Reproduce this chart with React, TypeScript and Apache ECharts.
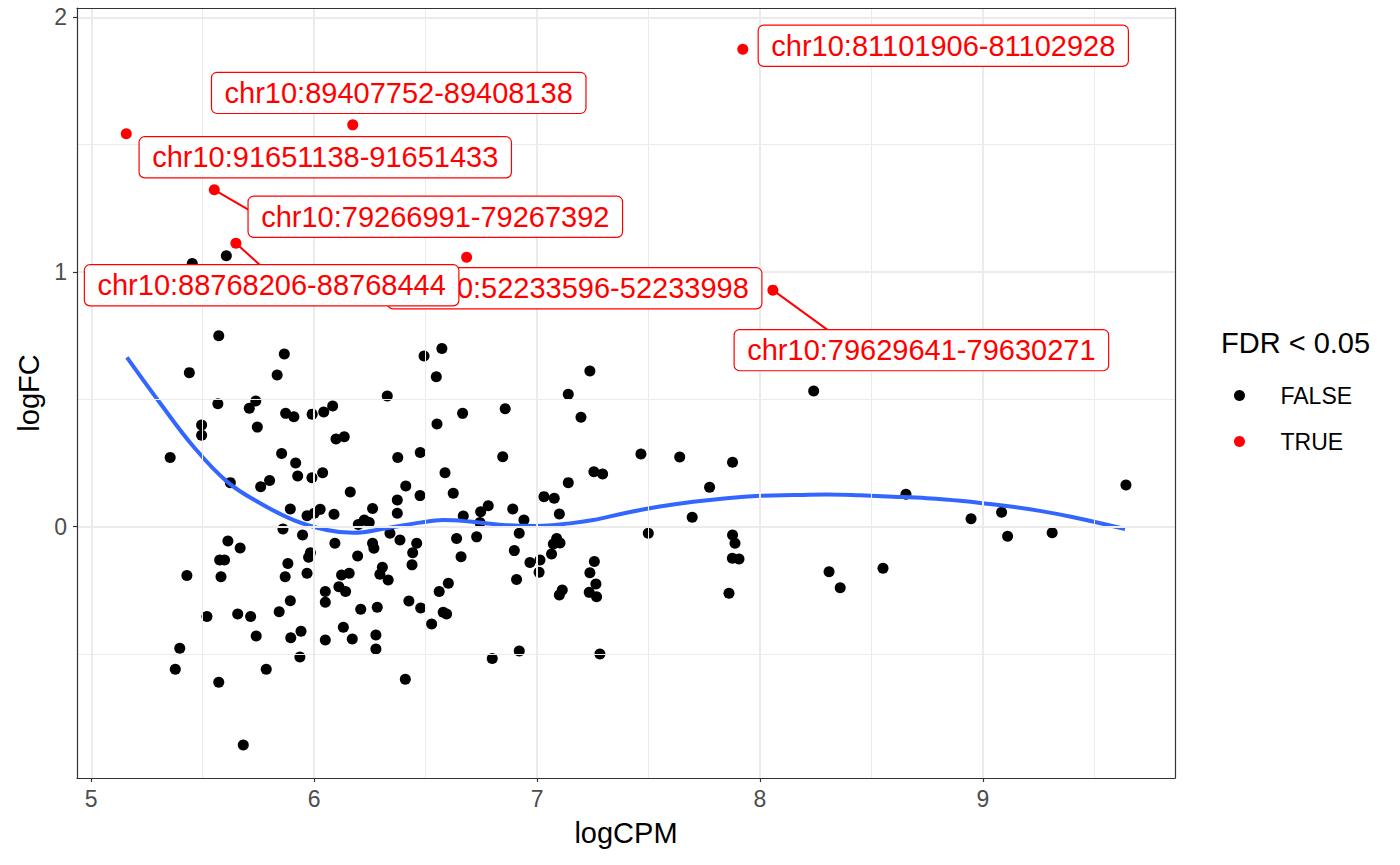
import React, { useEffect, useRef } from "react";
import * as echarts from "echarts";

const FONT = '"Liberation Sans", Arial, Helvetica, sans-serif';

// ---- FDR >= 0.05 (FALSE) points ----
const falseLogCPM = [
  5.572, 5.866, 5.440, 5.834, 5.568, 5.738, 5.709, 5.495, 5.495, 5.745,
  5.872, 5.909, 5.991, 6.043, 5.354, 5.854, 5.917, 5.926, 5.990, 6.038,
  5.624, 5.760, 5.800, 5.893, 5.968, 6.000, 6.027, 5.860, 5.948, 5.613,
  5.668, 5.983, 5.975, 5.576, 5.598, 5.882, 5.429, 5.582, 5.870, 5.968,
  6.050, 6.050, 5.893, 5.843, 5.519, 5.657, 5.715, 5.740, 5.895, 5.941,
  6.050, 5.397, 5.377, 5.785, 5.936, 5.572, 5.682, 6.493, 6.573, 6.548,
  6.328, 6.083, 6.666, 6.857, 6.551, 6.098, 6.135, 6.375, 6.476, 6.846,
  7.140, 6.587, 6.162, 6.411, 6.373, 6.475, 6.624, 7.031, 7.077, 7.140,
  6.089, 6.262, 6.373, 6.198, 6.225, 6.247, 6.669, 6.747, 6.781, 6.891,
  6.941, 7.100, 6.744, 6.093, 6.262, 6.268, 6.340, 6.385, 6.460, 6.442,
  6.639, 6.729, 6.920, 6.898, 7.088, 7.073, 7.103, 6.195, 6.439, 6.659,
  6.908, 6.968, 7.013, 7.009, 7.065, 6.157, 6.123, 6.306, 6.295, 6.332,
  6.111, 6.141, 6.209, 6.283, 6.425, 6.478, 6.561, 6.602, 6.579, 6.594,
  6.527, 7.113, 7.100, 6.131, 6.171, 6.277, 6.277, 6.409, 6.799, 6.920,
  7.237, 7.197, 7.466, 7.640, 7.877, 8.241, 7.255, 7.294, 7.774, 8.655,
  7.696, 7.499, 7.877, 7.888, 7.876, 7.906, 7.257, 7.237, 7.264, 7.234,
  7.267, 7.861, 8.310, 8.360, 8.552, 7.282, 9.642, 8.947, 9.084, 9.111,
  9.311, 5.453, 5.606,
];
const falseLogFC = [
  0.750, 0.678, 0.605, 0.596, 0.483, 0.494, 0.465, 0.399, 0.359, 0.391,
  0.445, 0.432, 0.442, 0.450, 0.272, 0.287, 0.250, 0.199, 0.192, 0.212,
  0.173, 0.157, 0.181, 0.069, 0.043, 0.053, 0.068, -0.009, -0.033, -0.056,
  -0.084, -0.102, -0.120, -0.131, -0.131, -0.145, -0.192, -0.197, -0.197, -0.183,
  -0.255, -0.297, -0.291, -0.334, -0.353, -0.343, -0.353, -0.429, -0.436, -0.411,
  -0.445, -0.477, -0.560, -0.560, -0.512, -0.611, -0.857, 0.670, 0.700, 0.589,
  0.513, 0.474, 0.445, 0.463, 0.403, 0.344, 0.353, 0.272, 0.291, 0.275,
  0.520, 0.212, 0.136, 0.160, 0.105, 0.122, 0.131, 0.118, 0.112, 0.173,
  0.049, 0.071, 0.053, 0.009, 0.026, 0.016, 0.042, 0.059, 0.082, 0.069,
  0.026, 0.050, 0.016, -0.065, -0.065, -0.085, -0.026, -0.052, -0.065, -0.102,
  -0.046, -0.040, -0.026, -0.094, -0.046, -0.068, -0.064, -0.115, -0.150, -0.118,
  -0.207, -0.141, -0.131, -0.179, -0.107, -0.183, -0.190, -0.159, -0.187, -0.209,
  -0.236, -0.255, -0.324, -0.316, -0.292, -0.319, -0.255, -0.222, -0.336, -0.343,
  -0.382, -0.249, -0.268, -0.395, -0.441, -0.425, -0.480, -0.599, -0.518, -0.488,
  0.611, 0.430, 0.285, 0.274, 0.253, 0.533, 0.216, 0.207, 0.155, 0.127,
  0.037, -0.026, -0.033, -0.065, -0.124, -0.127, -0.137, -0.181, -0.225, -0.258,
  -0.275, -0.261, -0.177, -0.240, -0.163, -0.500, 0.164, 0.031, 0.057, -0.038,
  -0.024, 1.034, 1.064,
];

// ---- FDR < 0.05 (TRUE) points, with their region labels ----
const trueLogCPM = [7.923, 6.173, 5.157, 5.552, 6.684, 5.649, 8.058];
const trueLogFC = [1.875, 1.578, 1.543, 1.323, 1.058, 1.113, 0.929];
const trueLabels = [
  "chr10:81101906-81102928",
  "chr10:89407752-89408138",
  "chr10:91651138-91651433",
  "chr10:79266991-79267392",
  "chr10:52233596-52233998",
  "chr10:88768206-88768444",
  "chr10:79629641-79630271",
];
// label box centre offset from its point (px), and segment end offset (px) or null
const labelOffsets = [
  [200.5, -3.5], [46, -32], [199, 23.5], [221, 27], [108, 31], [35.7, 42], [148.5, 60],
];
const segmentEnds = [null, null, null, [34.4, 20], null, [23.7, 21.4], [55, 40]];

// ---- loess trend ----
const loessLogCPM = [
  5.160, 5.310, 5.459, 5.609, 5.758, 5.908, 6.057, 6.175, 6.325, 6.475,
  6.579, 6.699, 6.848, 6.998, 7.148, 7.252, 7.402, 7.551, 7.701, 7.851,
  8.000, 8.149, 8.299, 8.449, 8.598, 8.748, 8.897, 9.107, 9.256, 9.406, 9.638,
];
const loessLogFC = [
  0.665, 0.484, 0.314, 0.177, 0.092, 0.026, -0.013, -0.024, -0.006, 0.016,
  0.026, 0.020, 0.007, 0.003, 0.013, 0.026, 0.055, 0.079, 0.098, 0.112,
  0.121, 0.124, 0.126, 0.123, 0.118, 0.112, 0.102, 0.081, 0.062, 0.037, -0.009,
];

// ---- axes ----
const xMajorTicks = [5, 6, 7, 8, 9];
const xMinorTicks = [5.5, 6.5, 7.5, 8.5, 9.5];
const yMajorTicks = [0, 1, 2];
const yMinorTicks = [-0.5, 0.5, 1.5];
const xRange = [4.936, 9.862];
const yRange = [-0.987, 2.037];

export default function App() {
  const ref = useRef<HTMLDivElement>(null);

  useEffect(() => {
    if (!ref.current) return;
    const chart = echarts.init(ref.current, null, { renderer: "svg" });

    const gridLines: any[] = [];
    xMajorTicks.forEach((v) => gridLines.push({ xAxis: v, lineStyle: { color: "#EBEBEB", width: 2, type: "solid" } }));
    xMinorTicks.forEach((v) => gridLines.push({ xAxis: v, lineStyle: { color: "#EBEBEB", width: 1, type: "solid" } }));
    yMajorTicks.forEach((v) => gridLines.push({ yAxis: v, lineStyle: { color: "#EBEBEB", width: 2, type: "solid" } }));
    yMinorTicks.forEach((v) => gridLines.push({ yAxis: v, lineStyle: { color: "#EBEBEB", width: 1, type: "solid" } }));

    const borderAxis = {
      axisLine: { show: true, lineStyle: { color: "#333333", width: 1.2 } },
      axisTick: { show: false },
      axisLabel: { show: false },
      splitLine: { show: false },
      z: 10,
    };

    const option: any = {
      animation: false,
      backgroundColor: "#FFFFFF",
      grid: { left: 77, right: 225, top: 8, bottom: 87, containLabel: false },
      xAxis: [
        {
          type: "value",
          min: xRange[0],
          max: xRange[1],
          position: "bottom",
          axisLine: { show: true, onZero: false, lineStyle: { color: "#333333", width: 1.2 } },
          axisTick: { show: true, length: 4, customValues: xMajorTicks, lineStyle: { color: "#333333", width: 1.2 } },
          axisLabel: { customValues: xMajorTicks, color: "#4D4D4D", fontSize: 23, fontFamily: FONT, margin: 9 },
          splitLine: { show: false },
          name: "logCPM",
          nameLocation: "middle",
          nameGap: 40,
          nameTextStyle: { color: "#000000", fontSize: 29, fontFamily: FONT },
          z: 10,
        },
        { type: "value", min: xRange[0], max: xRange[1], position: "top", ...borderAxis, axisLine: { show: true, onZero: false, lineStyle: { color: "#333333", width: 1.2 } } },
      ],
      yAxis: [
        {
          type: "value",
          min: yRange[0],
          max: yRange[1],
          position: "left",
          axisLine: { show: true, onZero: false, lineStyle: { color: "#333333", width: 1.2 } },
          axisTick: { show: true, length: 4, customValues: yMajorTicks, lineStyle: { color: "#333333", width: 1.2 } },
          axisLabel: { customValues: yMajorTicks, color: "#4D4D4D", fontSize: 23, fontFamily: FONT, margin: 10 },
          splitLine: { show: false },
          name: "logFC",
          nameLocation: "middle",
          nameRotate: 90,
          nameGap: 21,
          nameTextStyle: { color: "#000000", fontSize: 29, fontFamily: FONT },
          z: 10,
        },
        { type: "value", min: yRange[0], max: yRange[1], position: "right", ...borderAxis, axisLine: { show: true, onZero: false, lineStyle: { color: "#333333", width: 1.2 } } },
      ],
      legend: {
        data: ["FALSE", "TRUE"],
        orient: "vertical",
        left: 1229,
        top: 379,
        itemWidth: 72,
        itemHeight: 11,
        itemGap: 23,
        icon: "circle",
        selectedMode: false,
        textStyle: { color: "#000000", fontSize: 23, lineHeight: 23, fontFamily: FONT },
      },
      graphic: [
        {
          type: "text",
          left: 1221,
          top: 328,
          style: { text: "FDR < 0.05", fill: "#000000", fontSize: 29, fontFamily: FONT },
        },
      ],
      series: [
        {
          name: "grid",
          type: "line",
          data: [],
          z: 1,
          silent: true,
          markLine: {
            silent: true,
            symbol: ["none", "none"],
            label: { show: false },
            animation: false,
            data: gridLines,
          },
        },
        {
          name: "FALSE",
          type: "scatter",
          data: falseLogCPM.map((x, i) => [x, falseLogFC[i]]),
          symbol: "circle",
          symbolSize: 11,
          itemStyle: { color: "#000000", opacity: 1 },
          z: 2,
        },
        {
          name: "TRUE",
          type: "scatter",
          data: trueLogCPM.map((x, i) => [x, trueLogFC[i]]),
          symbol: "circle",
          symbolSize: 11,
          itemStyle: { color: "#FF0000", opacity: 1 },
          z: 2,
        },
        {
          name: "loess",
          type: "line",
          data: loessLogCPM.map((x, i) => [x, loessLogFC[i]]),
          showSymbol: false,
          smooth: 0.4,
          lineStyle: { color: "#3366FF", width: 4 },
          itemStyle: { color: "#3366FF" },
          z: 3,
        },
        {
          name: "labels",
          type: "custom",
          data: trueLogCPM.map((x, i) => [x, trueLogFC[i]]),
          encode: { x: 0, y: 1 },
          clip: false,
          z: 5,
          renderItem: (params: any, api: any) => {
            const i = params.dataIndex;
            const p = api.coord([api.value(0), api.value(1)]);
            const off = labelOffsets[i];
            const cx = p[0] + off[0];
            const cy = p[1] + off[1];
            const children: any[] = [];
            const seg = segmentEnds[i];
            if (seg) {
              children.push({
                type: "line",
                shape: { x1: p[0], y1: p[1], x2: p[0] + seg[0], y2: p[1] + seg[1] },
                style: { stroke: "#FF0000", lineWidth: 2 },
              });
            }
            children.push({
              type: "text",
              x: cx,
              y: cy,
              style: {
                text: trueLabels[i],
                fill: "#FF0000",
                fontSize: 29,
                fontFamily: FONT,
                lineHeight: 28,
                align: "center",
                verticalAlign: "middle",
                backgroundColor: "#FFFFFF",
                borderColor: "#FF0000",
                borderWidth: 1.2,
                borderRadius: 5,
                padding: [6, 12.5],
              },
            });
            return { type: "group", children };
          },
        },
      ],
    };

    chart.setOption(option);
    return () => chart.dispose();
  }, []);

  return (
    <div
      ref={ref}
      style={{ position: "absolute", left: 0, top: 0, width: 1400, height: 865, background: "#FFFFFF" }}
    />
  );
}
